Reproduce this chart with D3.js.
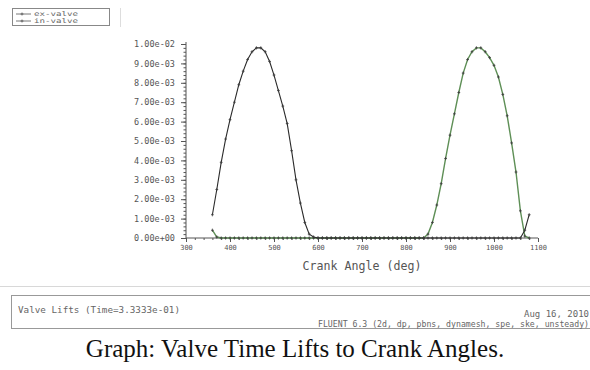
<!DOCTYPE html>
<html>
<head>
<meta charset="utf-8">
<script src="https://cdn.jsdelivr.net/npm/d3@7/dist/d3.min.js"></script>
<style>
  html, body { margin: 0; padding: 0; background: #fff; }
  svg { display: block; }
</style>
</head>
<body>
<script>
// Crank angle samples (deg)
const crankAngle = [
  360, 370, 380, 390, 400, 410, 420, 430, 440, 450, 460, 470, 480, 490, 500, 510, 520, 530, 540, 550,
  560, 570, 580, 590, 600, 610, 620, 630, 640, 650, 660, 670, 680, 690, 700, 710, 720, 730, 740, 750,
  760, 770, 780, 790, 800, 810, 820, 830, 840, 850, 860, 870, 880, 890, 900, 910, 920, 930, 940, 950,
  960, 970, 980, 990, 1000, 1010, 1020, 1030, 1040, 1050, 1060, 1070, 1080
];

// Exhaust valve lift (m)
const exValve = [
  0.0012, 0.0025, 0.0039, 0.0051, 0.0061, 0.0070, 0.0079, 0.0086, 0.0092, 0.0096, 0.0098, 0.0098, 0.0096, 0.0091, 0.0084, 0.0076, 0.0068, 0.0059, 0.0045, 0.0030,
  0.0018, 0.0008, 0.0002, 0.00005, 0, 0, 0, 0, 0, 0, 0, 0, 0, 0, 0, 0, 0, 0, 0, 0,
  0, 0, 0, 0, 0, 0, 0, 0, 0, 0, 0, 0, 0, 0, 0, 0, 0, 0, 0, 0,
  0, 0, 0, 0, 0, 0, 0, 0, 0, 0, 0, 0.0004, 0.0012
];

// Intake valve lift (m)
const inValve = [
  0.0004, 0.00005, 0, 0, 0, 0, 0, 0, 0, 0, 0, 0, 0, 0, 0, 0, 0, 0, 0, 0,
  0, 0, 0, 0, 0, 0, 0, 0, 0, 0, 0, 0, 0, 0, 0, 0, 0, 0, 0, 0,
  0, 0, 0, 0, 0, 0, 0, 0, 0, 0.0002, 0.0008, 0.0017, 0.0028, 0.0041, 0.0053, 0.0064, 0.0075, 0.0085, 0.0092, 0.0096,
  0.0098, 0.0098, 0.0096, 0.0093, 0.0089, 0.0083, 0.0074, 0.0063, 0.0049, 0.0034, 0.0014, 0.0001, 0
];

const seriesNames = ["ex-valve", "in-valve"];
const seriesColors = ["#2a2a2a", "#5e8f56"];

const xTicks = [300, 400, 500, 600, 700, 800, 900, 1000, 1100];
const xTickLabels = ["300", "400", "500", "600", "700", "800", "900", "1000", "1100"];
const yTicks = [0, 0.001, 0.002, 0.003, 0.004, 0.005, 0.006, 0.007, 0.008, 0.009, 0.01];
const yTickLabels = ["0.00e+00", "1.00e-03", "2.00e-03", "3.00e-03", "4.00e-03", "5.00e-03",
                     "6.00e-03", "7.00e-03", "8.00e-03", "9.00e-03", "1.00e-02"];
const yMinorTicks = d3.range(0, 0.01001, 0.0002);
const xMinorTicks = d3.range(300, 1101, 20);

const W = 590, H = 370;
const mono = "'DejaVu Sans Mono', 'Liberation Mono', monospace";
const ink = "#555";

const svg = d3.select("body").append("svg").attr("width", W).attr("height", H);

const x = d3.scaleLinear().domain([300, 1100]).range([186, 538]);
const y = d3.scaleLinear().domain([0, 0.01]).range([238, 44]);

// Y axis: minor then major ticks
svg.append("g").attr("transform", "translate(186,0)")
  .call(d3.axisLeft(y).tickValues(yMinorTicks).tickSize(2.5).tickFormat(""))
  .call(g => g.select(".domain").remove())
  .call(g => g.selectAll("line").attr("stroke", ink));

svg.append("g").attr("transform", "translate(186,0)")
  .call(d3.axisLeft(y).tickValues(yTicks).tickSize(5).tickPadding(6)
        .tickFormat((d, i) => yTickLabels[i]))
  .call(g => g.select(".domain").attr("stroke", ink).attr("d", "M0,42V238"))
  .call(g => g.selectAll("line").attr("stroke", ink))
  .call(g => g.selectAll("text").attr("fill", ink)
        .style("font", `8.5px ${mono}`));

// X axis
svg.append("g").attr("transform", "translate(0,238)")
  .call(d3.axisBottom(x).tickValues(xMinorTicks).tickSize(2).tickFormat(""))
  .call(g => g.select(".domain").remove())
  .call(g => g.selectAll("line").attr("stroke", ink));

svg.append("g").attr("transform", "translate(0,238)")
  .call(d3.axisBottom(x).tickValues(xTicks).tickSize(4).tickPadding(3)
        .tickFormat((d, i) => xTickLabels[i]))
  .call(g => g.select(".domain").attr("stroke", ink).attr("d", "M186,0H538"))
  .call(g => g.selectAll("line").attr("stroke", ink))
  .call(g => g.selectAll("text").attr("fill", ink)
        .style("font", `7px ${mono}`));

svg.append("text")
  .attr("x", 362).attr("y", 270)
  .attr("text-anchor", "middle")
  .attr("fill", ink)
  .attr("textLength", 119).attr("lengthAdjust", "spacingAndGlyphs")
  .style("font", `11.5px ${mono}`)
  .text("Crank Angle (deg)");

// Series: intake drawn first (green), exhaust on top
const line = d3.line().x(d => x(d[0])).y(d => y(d[1]));
const drawOrder = [1, 0];
const seriesValues = [exValve, inValve];

drawOrder.forEach(s => {
  const vals = seriesValues[s];
  const pts = crankAngle.map((c, i) => [c, vals[i]]);
  const g = svg.append("g");
  g.append("path").datum(pts)
    .attr("d", line)
    .attr("fill", "none")
    .attr("stroke", seriesColors[s])
    .attr("stroke-width", s === 1 ? 1.4 : 1.1);
  g.selectAll("path.mk").data(pts).join("path")
    .attr("class", "mk")
    .attr("d", d => {
      const px = x(d[0]), py = y(d[1]);
      return `M${px - 1.4},${py}H${px + 1.4}M${px},${py - 1.6}V${py + 1.6}`;
    })
    .attr("stroke", "#3a3a3a")
    .attr("stroke-width", 0.8);
});

// Legend window
const lg = svg.append("g");
lg.append("rect").attr("x", 12.5).attr("y", 8.5).attr("width", 97).attr("height", 17)
  .attr("fill", "#fff").attr("stroke", "#888");
seriesNames.forEach((name, i) => {
  const ly = 14 + i * 7;
  lg.append("line").attr("x1", 16).attr("x2", 31).attr("y1", ly).attr("y2", ly)
    .attr("stroke", "#555").attr("stroke-width", 0.8);
  lg.append("path")
    .attr("d", `M22,${ly - 1.5}V${ly + 1.5}M20.5,${ly}H23.5`)
    .attr("stroke", "#555").attr("stroke-width", 0.8);
  lg.append("text").attr("x", 34).attr("y", ly + 2.2)
    .attr("fill", "#666")
    .attr("textLength", 44).attr("lengthAdjust", "spacingAndGlyphs")
    .style("font", `6.5px ${mono}`)
    .text(name);
});
svg.append("line").attr("x1", 120.5).attr("x2", 120.5).attr("y1", 8).attr("y2", 27)
  .attr("stroke", "#ddd");

// Title bar
svg.append("line").attr("x1", 0).attr("x2", W).attr("y1", 286.5).attr("y2", 286.5)
  .attr("stroke", "#d8d8d8");
svg.append("rect").attr("x", 11.5).attr("y", 295.5).attr("width", 590).attr("height", 33)
  .attr("fill", "#fff").attr("stroke", "#999");
svg.append("text").attr("x", 18).attr("y", 313)
  .attr("fill", "#666")
  .attr("textLength", 162).attr("lengthAdjust", "spacingAndGlyphs")
  .style("font", `9px ${mono}`)
  .text("Valve Lifts  (Time=3.3333e-01)");
svg.append("text").attr("x", 589).attr("y", 317)
  .attr("text-anchor", "end")
  .attr("fill", "#666")
  .style("font", `9px ${mono}`)
  .text("Aug 16, 2010");
svg.append("text").attr("x", 589).attr("y", 327)
  .attr("text-anchor", "end")
  .attr("fill", "#666")
  .attr("textLength", 271).attr("lengthAdjust", "spacingAndGlyphs")
  .style("font", `8.2px ${mono}`)
  .text("FLUENT 6.3 (2d, dp, pbns, dynamesh, spe, ske, unsteady)");

// Caption
svg.append("text").attr("x", 295).attr("y", 357)
  .attr("text-anchor", "middle")
  .attr("fill", "#111")
  .style("font", "25px 'Liberation Serif', 'Times New Roman', serif")
  .text("Graph: Valve Time Lifts to Crank Angles.");
</script>
</body>
</html>
